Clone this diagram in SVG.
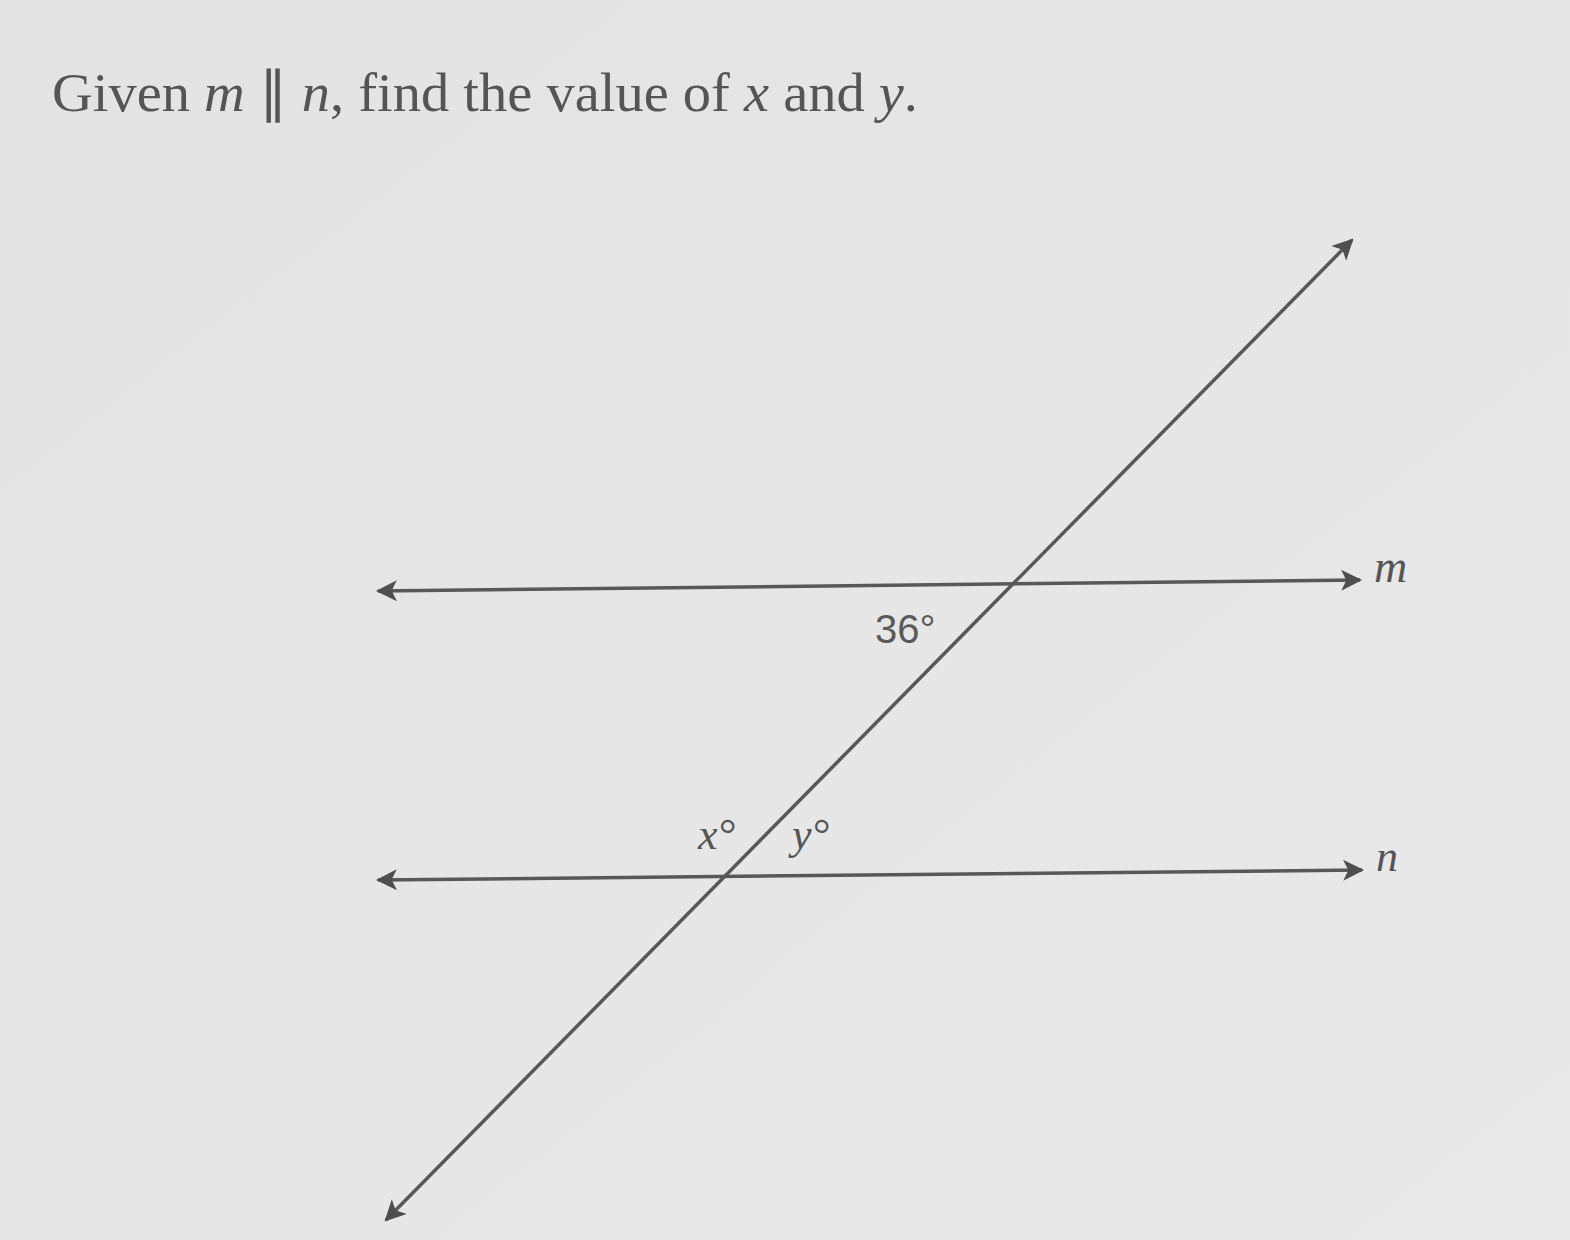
<svg xmlns="http://www.w3.org/2000/svg" width="1570" height="1240" viewBox="0 0 1570 1240">
<style>
.ln{stroke:#585858;stroke-width:3.5;fill:none}
.t{font-family:"Liberation Serif",serif;fill:#555}
.s{font-family:"Liberation Sans",sans-serif;fill:#5a5a5a}
</style>
<defs>
<linearGradient id="bg" x1="0" y1="0" x2="1" y2="1">
<stop offset="0" stop-color="#e3e3e3"/>
<stop offset="1" stop-color="#e9e9e9"/>
</linearGradient>
<marker id="ah" viewBox="0 0 10 10" refX="9" refY="5" markerWidth="7" markerHeight="6" markerUnits="strokeWidth" orient="auto-start-reverse">
<path d="M0,0 L10,5 L0,10 L2.5,5 Z" fill="#4f4f4f"/>
</marker>
</defs>
<rect width="1570" height="1240" fill="url(#bg)"/>
<text class="t" x="52" y="111" font-size="55" textLength="866" lengthAdjust="spacingAndGlyphs">Given <tspan font-style="italic">m</tspan> ∥ <tspan font-style="italic">n</tspan>, find the value of <tspan font-style="italic">x</tspan> and <tspan font-style="italic">y</tspan>.</text>
<g id="connectors">
<line id="line-m" class="ln" x1="378" y1="591" x2="1360" y2="580" marker-start="url(#ah)" marker-end="url(#ah)"/>
<line id="line-n" class="ln" x1="378" y1="880" x2="1362" y2="870" marker-start="url(#ah)" marker-end="url(#ah)"/>
<line id="transversal" class="ln" x1="386" y1="1220" x2="1352" y2="240" marker-start="url(#ah)" marker-end="url(#ah)"/>
</g>
<g id="label-m"><text class="t" x="1374" y="582" font-size="46" font-style="italic">m</text></g>
<g id="label-n"><text class="t" x="1376" y="871" font-size="44" font-style="italic">n</text></g>
<g id="label-36"><text class="s" x="875" y="643" font-size="40">36°</text></g>
<g id="label-x"><text class="t" x="698" y="849" font-size="44" font-style="italic">x°</text></g>
<g id="label-y"><text class="t" x="792" y="849" font-size="44" font-style="italic">y°</text></g>
</svg>
